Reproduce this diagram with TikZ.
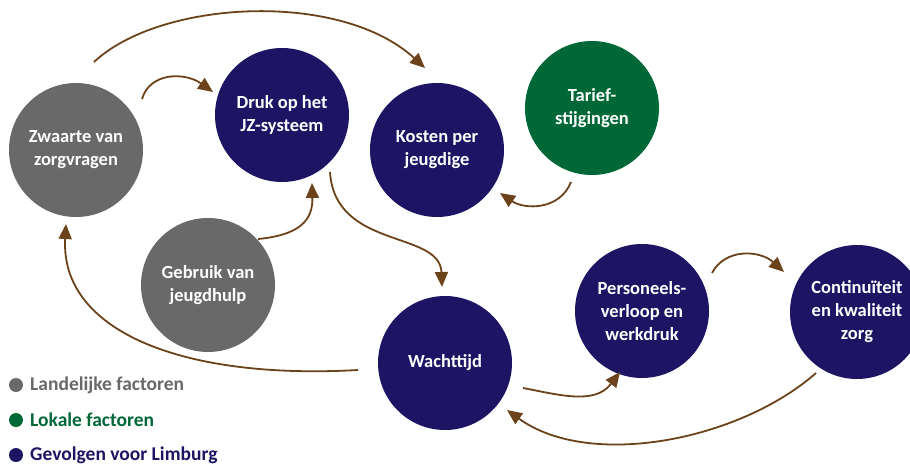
\documentclass[tikz,border=0pt]{standalone}
\usepackage{fontspec}
\setmainfont{Carlito}
\usetikzlibrary{arrows.meta,calc}
\definecolor{cgrey}{HTML}{696969}
\definecolor{cnavy}{HTML}{1E1464}
\definecolor{cgreen}{HTML}{006837}
\definecolor{cbrown}{HTML}{6B4219}
\begin{document}
\begin{tikzpicture}[x=1pt,y=-1pt,
  bub/.style={circle, minimum size=134pt, inner sep=0pt, text=white,
    font=\fontsize{18.5}{23}\selectfont\bfseries, align=center},
  link/.style={draw=cbrown, line width=1.8pt, -{Triangle[length=15pt,width=13pt]}},
  legdot/.style={circle, minimum size=14pt, inner sep=0pt},
  legtext/.style={anchor=west, inner sep=0pt, font=\fontsize{19.5}{22}\selectfont\bfseries}]
\useasboundingbox (0,0) rectangle (910,464);
\begin{scope}
\clip (0,0) rectangle (910,464);
\node[bub, fill=cgrey]  (zw) at (76,150)  {Zwaarte van\\zorgvragen};
\node[bub, fill=cnavy]  (dr) at (282,115) {Druk op het\\JZ-systeem};
\node[bub, fill=cnavy]  (ko) at (437,150) {Kosten per\\jeugdige};
\node[bub, fill=cgreen] (ta) at (592,108) {Tarief-\\stijgingen};
\node[bub, fill=cgrey]  (ge) at (208,285) {Gebruik van\\jeugdhulp};
\node[bub, fill=cnavy]  (wa) at (445,363) {Wachttijd};
\node[bub, fill=cnavy]  (pe) at (642,311) {Personeels-\\verloop en\\werkdruk};
\node[bub, fill=cnavy]  (co) at (857,312) {Continuïteit\\en kwaliteit\\zorg};
\end{scope}
% connectors
\draw[link] ($(zw)+(18,-88)$) .. controls (160,0) and (340,-10) .. ($(ko)+(-12,-82)$);
\draw[link] ($(zw)+(66,-51)$) .. controls (150,72) and (185,72) .. ($(dr)+(-69,-23)$);
\draw[link] ($(ge)+(50,-46)$) .. controls (300,235) and (313,220) .. ($(dr)+(30,68)$);
\draw[link] ($(dr)+(48,57)$) .. controls (335,250) and (440,230) .. ($(wa)+(-3,-76)$);
\draw[link] ($(ta)+(-21,74)$) .. controls (560,210) and (525,210) .. ($(ko)+(63,43)$);
\draw[link] ($(wa)+(-87,7)$) .. controls (180,380) and (60,330) .. ($(zw)+(-10,74)$);
\draw[link] ($(wa)+(78,25)$) .. controls (560,395) and (595,405) .. ($(pe)+(-22,61)$);
\draw[link] ($(pe)+(70,-38)$) .. controls (725,248) and (760,250) .. ($(co)+(-73,-40)$);
\draw[link] ($(co)+(-41,61)$) .. controls (740,440) and (590,470) .. ($(wa)+(62,47)$);
% legend
\node[legdot, fill=cgrey]  (d1) at (16,385) {};
\node[legdot, fill=cgreen] (d2) at (16,420) {};
\node[legdot, fill=cnavy]  (d3) at (16,455) {};
\node[legtext, text=cgrey]  (l1) at (30,385) {Landelijke factoren};
\node[legtext, text=cgreen] (l2) at (30,420) {Lokale factoren};
\node[legtext, text=cnavy]  (l3) at (30,455) {Gevolgen voor Limburg};
\end{tikzpicture}
\end{document}
